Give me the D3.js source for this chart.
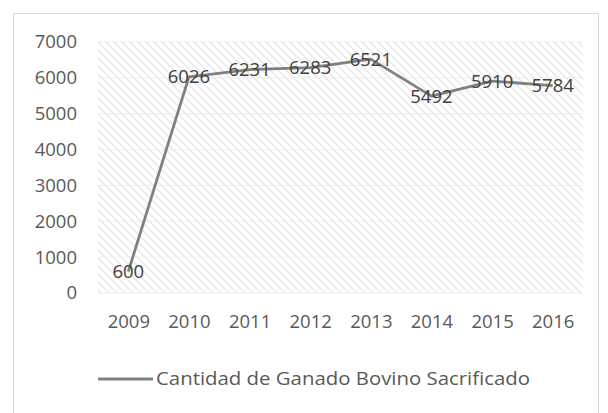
<!DOCTYPE html>
<html><head><meta charset="utf-8">
<script src="https://cdn.jsdelivr.net/npm/d3@7"></script>
<style>body{margin:0;background:#fff}svg{display:block}text{font-family:"Open Sans",sans-serif}</style>
</head><body><svg id="c" width="608" height="413"></svg>
<script>
const years = ["2009","2010","2011","2012","2013","2014","2015","2016"];
const values = [600,6026,6231,6283,6521,5492,5910,5784];
const yTicks = [0,1000,2000,3000,4000,5000,6000,7000];
const seriesName = "Cantidad de Ganado Bovino Sacrificado";

const svg = d3.select("#c");
svg.append("rect").attr("x",13.5).attr("y",13.5).attr("width",585).attr("height",420).attr("fill","#fff").attr("stroke","#d9d9d9");

const m={l:98,r:583,t:42,b:293};
const x=d3.scalePoint().domain(years).range([m.l,m.r]).padding(0.5);
const y=d3.scaleLinear().domain([0,7000]).range([m.b,m.t]);

const defs=svg.append("defs");
const pat=defs.append("pattern").attr("id","hatch").attr("patternUnits","userSpaceOnUse").attr("width",8).attr("height",8);
pat.append("path").attr("d","M-2,-2L10,10M-2,6L2,10M6,-2L10,2").attr("stroke","#e8e8e8").attr("stroke-width",1.5);
svg.append("rect").attr("x",m.l).attr("y",m.t).attr("width",m.r-m.l).attr("height",m.b-m.t).attr("fill","url(#hatch)");

const g=svg.append("g");
g.selectAll("line.h").data(yTicks).join("line").attr("x1",m.l).attr("x2",m.r).attr("y1",d=>y(d)).attr("y2",d=>y(d)).attr("stroke","#ececec").attr("stroke-width",1);

const fs=18.5;
const yAxis=svg.append("g").attr("transform",`translate(${m.l},0)`).call(d3.axisLeft(y).tickValues(yTicks).tickFormat(d3.format("d")).tickSize(0).tickPadding(21));
yAxis.select(".domain").remove();
yAxis.selectAll("text").attr("font-size",fs).attr("fill","#595959").attr("font-family","Open Sans, sans-serif");

const xAxis=svg.append("g").attr("transform",`translate(0,${m.b})`).call(d3.axisBottom(x).tickSize(0).tickPadding(22));
xAxis.select(".domain").remove();
xAxis.selectAll("text").attr("font-size",fs).attr("fill","#595959").attr("font-family","Open Sans, sans-serif");

const line=d3.line().x((d,i)=>x(years[i])).y(d=>y(d));
svg.append("path").datum(values).attr("d",line).attr("fill","none").attr("stroke","#808080").attr("stroke-width",2.8).attr("stroke-linejoin","round");

svg.selectAll("text.lbl").data(values).join("text").attr("class","lbl")
 .attr("x",(d,i)=>x(years[i])).attr("y",d=>y(d)).attr("dy","0.35em").attr("text-anchor","middle")
 .attr("font-size",fs).attr("fill","#404040").text(d=>d);

const lg=svg.append("g");
lg.append("line").attr("x1",98).attr("x2",153).attr("y1",379).attr("y2",379).attr("stroke","#808080").attr("stroke-width",2.8);
lg.append("text").attr("x",156).attr("y",379).attr("dy","0.35em").attr("font-size",fs).attr("fill","#595959").attr("textLength",374).attr("lengthAdjust","spacingAndGlyphs").text(seriesName);
</script></body></html>
